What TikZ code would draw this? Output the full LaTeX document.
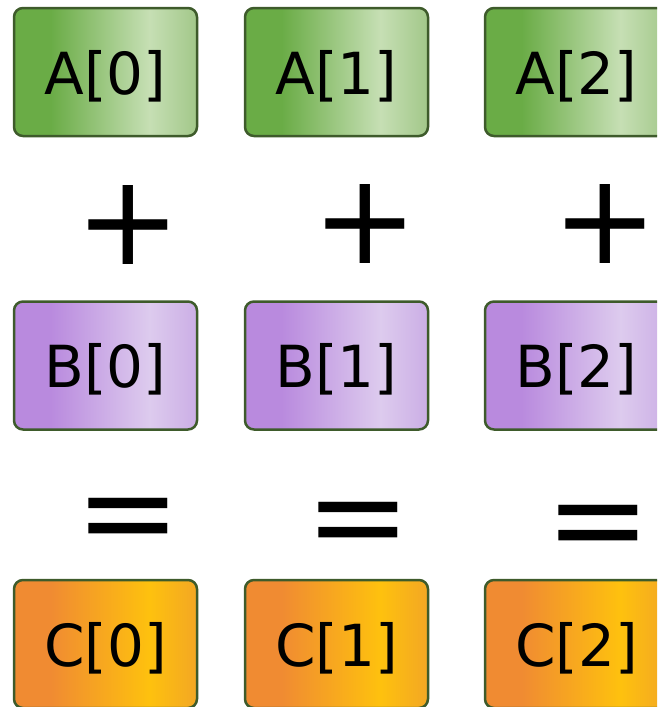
\documentclass[tikz,border=0pt]{standalone}
\usepackage{fontspec}
\setmainfont{DejaVu Sans}
\usetikzlibrary{positioning}
\definecolor{rim}{HTML}{3E5B2B}
\definecolor{gLeft}{HTML}{6AAC46}
\definecolor{gHigh}{HTML}{C6DFB4}
\definecolor{gRight}{HTML}{A2C789}
\definecolor{pLeft}{HTML}{B98ADE}
\definecolor{pHigh}{HTML}{DDCBEE}
\definecolor{pRight}{HTML}{CBAEE5}
\definecolor{oLeft}{HTML}{F08B32}
\definecolor{oHigh}{HTML}{FEC10E}
\definecolor{oRight}{HTML}{F3A724}
\pgfdeclarehorizontalshading{greenfade}{100bp}{color(0bp)=(gLeft); color(35bp)=(gLeft); color(62bp)=(gHigh); color(75bp)=(gRight); color(100bp)=(gRight)}
\pgfdeclarehorizontalshading{purplefade}{100bp}{color(0bp)=(pLeft); color(35bp)=(pLeft); color(62bp)=(pHigh); color(75bp)=(pRight); color(100bp)=(pRight)}
\pgfdeclarehorizontalshading{orangefade}{100bp}{color(0bp)=(oLeft); color(35bp)=(oLeft); color(62bp)=(oHigh); color(75bp)=(oRight); color(100bp)=(oRight)}

\begin{document}
\begin{tikzpicture}[
    x=1pt, y=-1pt,
    cell/.style={draw=rim, line width=2.5pt, rounded corners=9pt,
                 minimum width=183pt, minimum height=128pt, inner sep=0pt,
                 text depth=0pt, font=\fontsize{58}{60}\selectfont},
    acell/.style={cell, shading=greenfade},
    bcell/.style={cell, shading=purplefade},
    ccell/.style={cell, shading=orangefade},
    opsym/.style={inner sep=0pt, font=\fontsize{126}{130}\selectfont},
]
\useasboundingbox (0,0) rectangle (657,707);
\clip (0,0) rectangle (657,707);

% ============================================================
% Column and row centres (pixels of the sketch)
% ============================================================
\def\Xa{105.5}
\def\Xb{336.5}
\def\Xc{576.5}
\def\Ya{72}
\def\Yb{365.5}
\def\Yc{644}

% Operand rows
\node[acell] (a0) at (\Xa,\Ya) {A[0]};
\node[acell] (a1) at (\Xb,\Ya) {A[1]};
\node[acell] (a2) at (\Xc,\Ya) {A[2]};

\node[bcell] (b0) at (\Xa,\Yb) {B[0]};
\node[bcell] (b1) at (\Xb,\Yb) {B[1]};
\node[bcell] (b2) at (\Xc,\Yb) {B[2]};

% Result row
\node[ccell] (c0) at (\Xa,\Yc) {C[0]};
\node[ccell] (c1) at (\Xb,\Yc) {C[1]};
\node[ccell] (c2) at (\Xc,\Yc) {C[2]};

% Operators
\node[opsym] (plus0) at (128.5,225) {+};
\node[opsym] (plus1) at (365,224)   {+};
\node[opsym] (plus2) at (605,224)   {+};

\node[opsym] (eq0) at (128.5,527) {=};
\node[opsym] (eq1) at (358.5,531) {=};
\node[opsym] (eq2) at (598,534)   {=};

\end{tikzpicture}
\end{document}
